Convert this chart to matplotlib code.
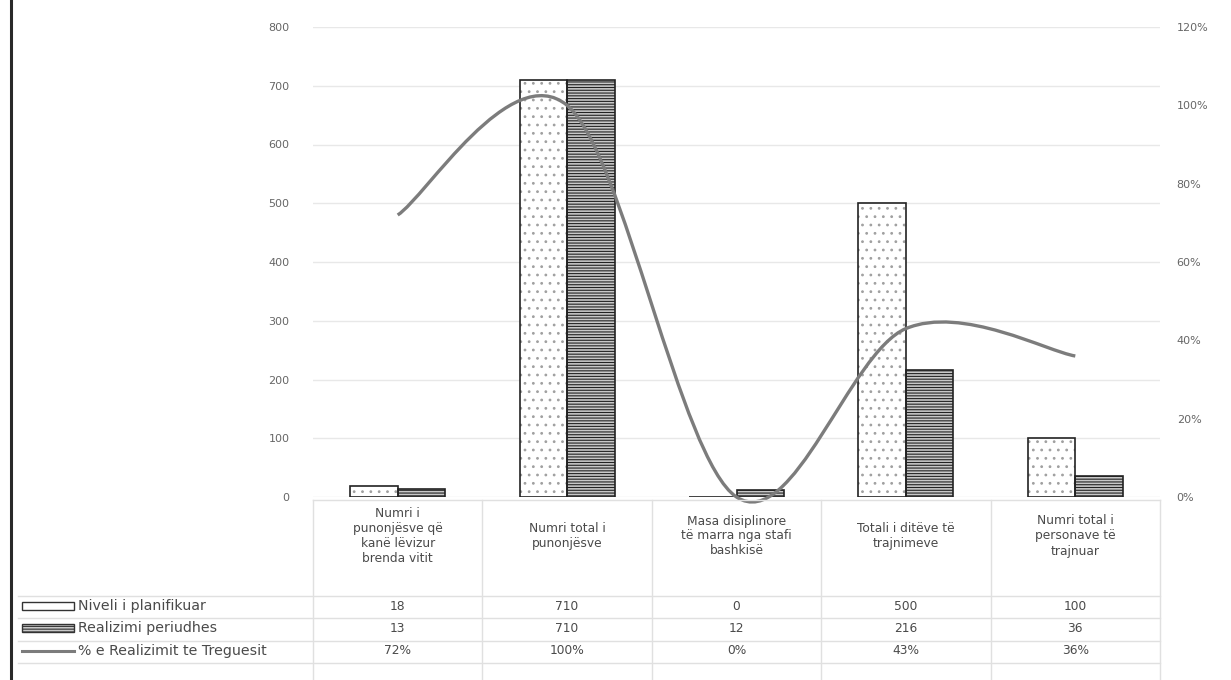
import matplotlib
matplotlib.use("Agg")
import matplotlib.pyplot as plt
from matplotlib.path import Path
from matplotlib.patches import PathPatch, Rectangle
from matplotlib.lines import Line2D

# --- data -------------------------------------------------------------
categories = [
    "Numri i\npunonjësve që\nkanë lëvizur\nbrenda vitit",
    "Numri total i\npunonjësve",
    "Masa disiplinore\ntë marra nga stafi\nbashkisë",
    "Totali i ditëve të\ntrajnimeve",
    "Numri total i\npersonave të\ntrajnuar",
]
planned = [18, 710, 0, 500, 100]
realized = [13, 710, 12, 216, 36]
pct_realized = [72, 100, 0, 43, 36]

series_names = ["Niveli i planifikuar", "Realizimi periudhes", "% e Realizimit te Treguesit"]
left_ticks = [0, 100, 200, 300, 400, 500, 600, 700, 800]
right_ticks = [0, 20, 40, 60, 80, 100, 120]

W, H = 1231, 680
TXT = "#4a4a4a"
GRID = "#e8e8e8"
plt.rcParams["font.family"] = ["DejaVu Sans"]
plt.rcParams["hatch.linewidth"] = 0.8

fig = plt.figure(figsize=(W / 100, H / 100), dpi=100)

# plot area in pixel coordinates
px_l, px_r, px_t, px_b = 313, 1160, 27, 497
ax = fig.add_axes([px_l / W, 1 - px_b / H, (px_r - px_l) / W, (px_b - px_t) / H])
n = len(categories)
xs = list(range(n))
ax.set_xlim(-0.5, n - 0.5)
ax.set_ylim(0, 800)
ax.set_yticks(left_ticks)
ax.set_yticklabels([str(t) for t in left_ticks], fontsize=8, color="#666666")
ax.tick_params(axis="y", length=0, pad=17)
ax.set_xticks([])
for s in ax.spines.values():
    s.set_visible(False)
ax.grid(axis="y", color=GRID, linewidth=1.0)
ax.set_axisbelow(True)

bw = 0.28
px_planned = [x - bw / 2 for x in xs]
px_real = [x + bw / 2 for x in xs]
# planned: light dotted fill, then a dark outline on top
ax.bar(px_planned, planned, width=bw, facecolor="white", edgecolor="#a0a0a0",
       hatch="..", linewidth=0, zorder=2)
ax.bar(px_planned, planned, width=bw, facecolor="none", edgecolor="#222222",
       linewidth=1.2, zorder=2.1)
# realized: dense horizontal lines
ax.bar(px_real, realized, width=bw, facecolor="#c8c8c8", edgecolor="#222222",
       hatch="------", linewidth=1.2, zorder=2)

# secondary axis: smoothed percentage line
ax2 = ax.twinx()
ax2.set_ylim(0, 120)
ax2.set_yticks(right_ticks)
ax2.set_yticklabels([f"{t}%" for t in right_ticks], fontsize=8, color="#666666")
ax2.tick_params(axis="y", length=0, pad=12)
for s in ax2.spines.values():
    s.set_visible(False)

pts = list(zip(xs, pct_realized))
verts = [pts[0]]
codes = [Path.MOVETO]
for i in range(n - 1):
    p0 = pts[i - 1] if i > 0 else pts[i]
    p1 = pts[i]
    p2 = pts[i + 1]
    p3 = pts[i + 2] if i + 2 < n else pts[i + 1]
    c1 = (p1[0] + (p2[0] - p0[0]) / 6, p1[1] + (p2[1] - p0[1]) / 6)
    c2 = (p2[0] - (p3[0] - p1[0]) / 6, p2[1] - (p3[1] - p1[1]) / 6)
    verts += [c1, c2, p2]
    codes += [Path.CURVE4] * 3
ax2.add_patch(PathPatch(Path(verts, codes), facecolor="none", edgecolor="#7c7c7c",
                        linewidth=2.4, clip_on=False, zorder=3))

# --- data table below the plot ---------------------------------------
ov = fig.add_axes([0, 0, 1, 1], facecolor="none")
ov.set_xlim(0, W)
ov.set_ylim(H, 0)
ov.axis("off")

cw = (px_r - px_l) / n
bounds = [px_l + i * cw for i in range(n + 1)]
row_y = [596, 618, 641, 663]
line_kw = dict(color="#e0e0e0", linewidth=1.0)
for b in bounds:
    ov.plot([b, b], [px_b + 3, H], **line_kw)
for y in row_y:
    ov.plot([18, px_r], [y, y], **line_kw)
ov.plot([px_l, px_r], [px_b + 3, px_b + 3], **line_kw)

for i, lab in enumerate(categories):
    cx = bounds[i] + cw / 2
    ov.text(cx, 536, lab, ha="center", va="center", fontsize=8.8, color=TXT,
            linespacing=1.2)

rows = [
    [str(v) for v in planned],
    [str(v) for v in realized],
    [f"{v}%" for v in pct_realized],
]
row_centers = [606, 628, 651]
for r, vals in enumerate(rows):
    yc = row_centers[r]
    for i, v in enumerate(vals):
        ov.text(bounds[i] + cw / 2, yc, v, ha="center", va="center", fontsize=8.8, color=TXT)
    ov.text(78, yc, series_names[r], ha="left", va="center", fontsize=10.2, color=TXT)

# legend keys
ov.add_patch(Rectangle((22, 602), 52, 8, facecolor="white", edgecolor="#333333",
                       linewidth=1.0))
ov.add_patch(Rectangle((22, 624), 52, 8, facecolor="#c8c8c8", edgecolor="#333333",
                       hatch="------", linewidth=1.0))
ov.add_line(Line2D([22, 74], [651, 651], color="#7c7c7c", linewidth=2.2))

# page border on the left edge
ov.add_line(Line2D([11, 11], [0, H], color="#2a2a2a", linewidth=2.2))

fig.savefig("out.png", dpi=100, facecolor="white")
